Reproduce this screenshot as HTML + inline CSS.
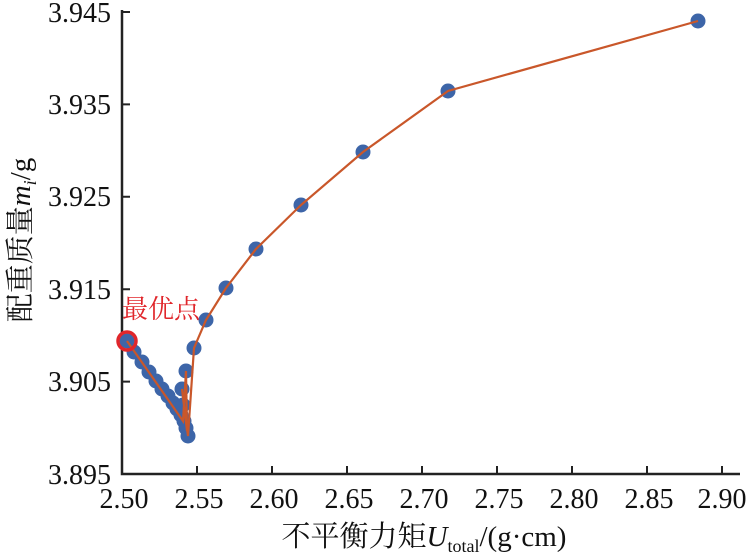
<!DOCTYPE html>
<html><head><meta charset="utf-8"><style>
body{margin:0;background:#fff}
svg text{font-family:"Liberation Serif","Noto Serif CJK SC",serif;fill:#111}
</style></head><body>
<svg width="755" height="552" viewBox="0 0 755 552" xmlns="http://www.w3.org/2000/svg">
<g stroke="#222" stroke-width="2.5" fill="none">
<path d="M122,10 V474 H740"/>
</g>
<g stroke="#222" stroke-width="2">
<path d="M122,12h8M122,104.4h8M122,196.8h8M122,289.2h8M122,381.6h8"/>
<path d="M197,474v-8M272,474v-8M347,474v-8M422,474v-8M497,474v-8M572,474v-8M647,474v-8M722,474v-8"/>
</g>
<g font-size="28" text-anchor="end">
<text x="111" y="22">3.945</text><text x="111" y="114">3.935</text><text x="111" y="206">3.925</text><text x="111" y="299">3.915</text><text x="111" y="391">3.905</text><text x="111" y="484">3.895</text>
</g>
<g font-size="28" text-anchor="middle">
<text x="124" y="508">2.50</text><text x="199" y="508">2.55</text><text x="274" y="508">2.60</text><text x="349" y="508">2.65</text><text x="424" y="508">2.70</text><text x="499" y="508">2.75</text><text x="574" y="508">2.80</text><text x="649" y="508">2.85</text><text x="722" y="508">2.90</text>
</g>
<text x="424" y="546" font-size="29" text-anchor="middle">不平衡力矩<tspan font-style="italic">U</tspan><tspan font-size="18" dy="6">total</tspan><tspan dy="-6">/(g·cm)</tspan></text>
<text transform="translate(30,240) rotate(-90)" font-size="29" text-anchor="middle">配重质量<tspan font-style="italic">m</tspan><tspan font-size="18" font-style="italic" dy="6">i</tspan><tspan dy="-6">/g</tspan></text>
<g fill="#3d65a8">
<circle cx="127" cy="341" r="7.5"/><circle cx="134" cy="352" r="7.5"/><circle cx="142" cy="362" r="7.5"/><circle cx="149" cy="372" r="7.5"/><circle cx="156" cy="381" r="7.5"/><circle cx="162" cy="389" r="7.5"/><circle cx="168" cy="396" r="7.5"/><circle cx="173" cy="403" r="7.5"/><circle cx="177" cy="409" r="7.5"/><circle cx="181" cy="415" r="7.5"/><circle cx="184" cy="421" r="7.5"/><circle cx="186" cy="428" r="7.5"/><circle cx="188" cy="436" r="7.5"/><circle cx="182" cy="389" r="7.5"/><circle cx="186" cy="371" r="7.5"/><circle cx="183" cy="405" r="7.5"/><circle cx="194" cy="348" r="7.5"/><circle cx="206" cy="320" r="7.5"/><circle cx="226" cy="288" r="7.5"/><circle cx="256" cy="249" r="7.5"/><circle cx="301" cy="205" r="7.5"/><circle cx="363" cy="152" r="7.5"/><circle cx="448" cy="91" r="7.5"/><circle cx="698" cy="21" r="7.5"/>
</g>
<polyline fill="none" stroke="#c9572a" stroke-width="2.2" points="127,341 183,421 186,371 187,431 182,389 188,436 194,348 206,320 226,288 256,249 301,205 363,152 448,91 698,21"/>
<circle cx="127" cy="341" r="9" fill="none" stroke="#e0262b" stroke-width="3.5"/>
<text x="122" y="318" font-size="26" style="fill:#e0262b">最优点</text>
</svg>
</body></html>
